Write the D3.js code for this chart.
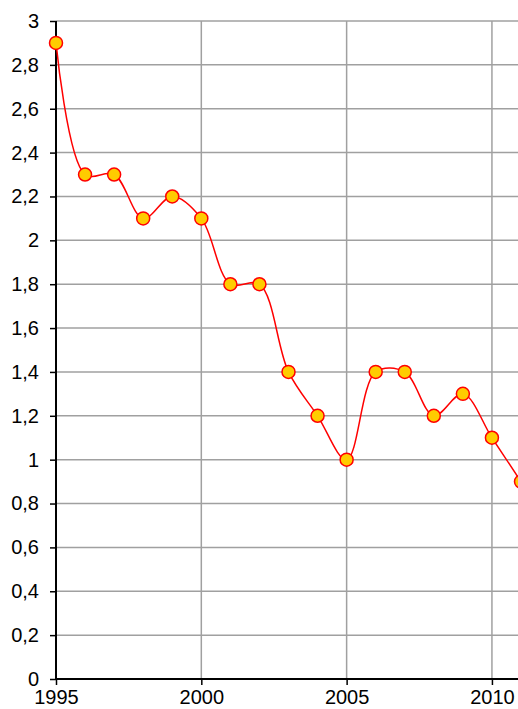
<!DOCTYPE html>
<meta charset="utf-8"/>
<style>
  body { margin: 0; background: #fff; }
  text { font-family: "Liberation Sans", Arial, sans-serif; }
</style>
<svg width="518" height="709"></svg>
<script src="https://d3js.org/d3.v7.min.js"></script>
<script>
// data
var years  = [1995, 1996, 1997, 1998, 1999, 2000, 2001, 2002, 2003, 2004, 2005, 2006, 2007, 2008, 2009, 2010, 2011];
var values = [2.9, 2.3, 2.3, 2.1, 2.2, 2.1, 1.8, 1.8, 1.4, 1.2, 1.0, 1.4, 1.4, 1.2, 1.3, 1.1, 0.9];
var yTicks = [0, 0.2, 0.4, 0.6, 0.8, 1, 1.2, 1.4, 1.6, 1.8, 2, 2.2, 2.4, 2.6, 2.8, 3];
var xTicks = [1995, 2000, 2005, 2010];

var svg = d3.select("svg");
var plotLeft = 56, plotRight = 521, plotTop = 21, plotBottom = 679;

var x = d3.scaleLinear().domain([1995, 2011]).range([plotLeft, plotRight]);
var y = d3.scaleLinear().domain([0, 3]).range([plotBottom, plotTop]);

var fmt = function(d) { return String(d).replace(".", ","); };

// gridlines
svg.append("g").selectAll("line")
  .data(yTicks.filter(function(d) { return d > 0; }))
  .enter().append("line")
    .attr("x1", plotLeft).attr("x2", 518)
    .attr("y1", function(d) { return y(d); })
    .attr("y2", function(d) { return y(d); })
    .attr("stroke", "#a0a0a0").attr("stroke-width", 1.5);

svg.append("g").selectAll("line")
  .data(xTicks.filter(function(d) { return d > 1995; }))
  .enter().append("line")
    .attr("x1", function(d) { return x(d); })
    .attr("x2", function(d) { return x(d); })
    .attr("y1", plotTop).attr("y2", plotBottom)
    .attr("stroke", "#a0a0a0").attr("stroke-width", 1.5);

// axes
var yAxis = d3.axisLeft(y).tickValues(yTicks).tickFormat(fmt).tickSize(6).tickPadding(11);
var gy = svg.append("g").attr("transform", "translate(" + plotLeft + ",0)").call(yAxis);
gy.select(".domain").attr("stroke", "#000").attr("stroke-width", 2).attr("d", "M0," + plotTop + "V" + plotBottom);

var xAxis = d3.axisBottom(x).tickValues(xTicks).tickFormat(d3.format("d")).tickSize(6).tickPadding(5);
var gx = svg.append("g").attr("transform", "translate(0," + plotBottom + ")").call(xAxis);
gx.select(".domain").attr("stroke", "#000").attr("stroke-width", 2).attr("d", "M" + plotLeft + ",0H518");

svg.selectAll(".tick line").attr("stroke", "#000").attr("stroke-width", 1.5);
svg.selectAll(".tick text").attr("fill", "#000")
  .style("font-size", "20px").style("font-family", "'Liberation Sans', Arial, sans-serif");

// series
var pts = years.map(function(d, i) { return [d, values[i]]; });
var line = d3.line()
  .x(function(d) { return x(d[0]); })
  .y(function(d) { return y(d[1]); })
  .curve(d3.curveCatmullRom.alpha(0.5));

svg.append("path").datum(pts)
  .attr("d", line)
  .attr("fill", "none").attr("stroke", "#ff0000").attr("stroke-width", 1.5);

svg.append("g").selectAll("circle")
  .data(pts).enter().append("circle")
    .attr("cx", function(d) { return x(d[0]); })
    .attr("cy", function(d) { return y(d[1]); })
    .attr("r", 6.5)
    .attr("fill", "#ffcc00").attr("stroke", "#ff0000").attr("stroke-width", 1.5);
</script>
